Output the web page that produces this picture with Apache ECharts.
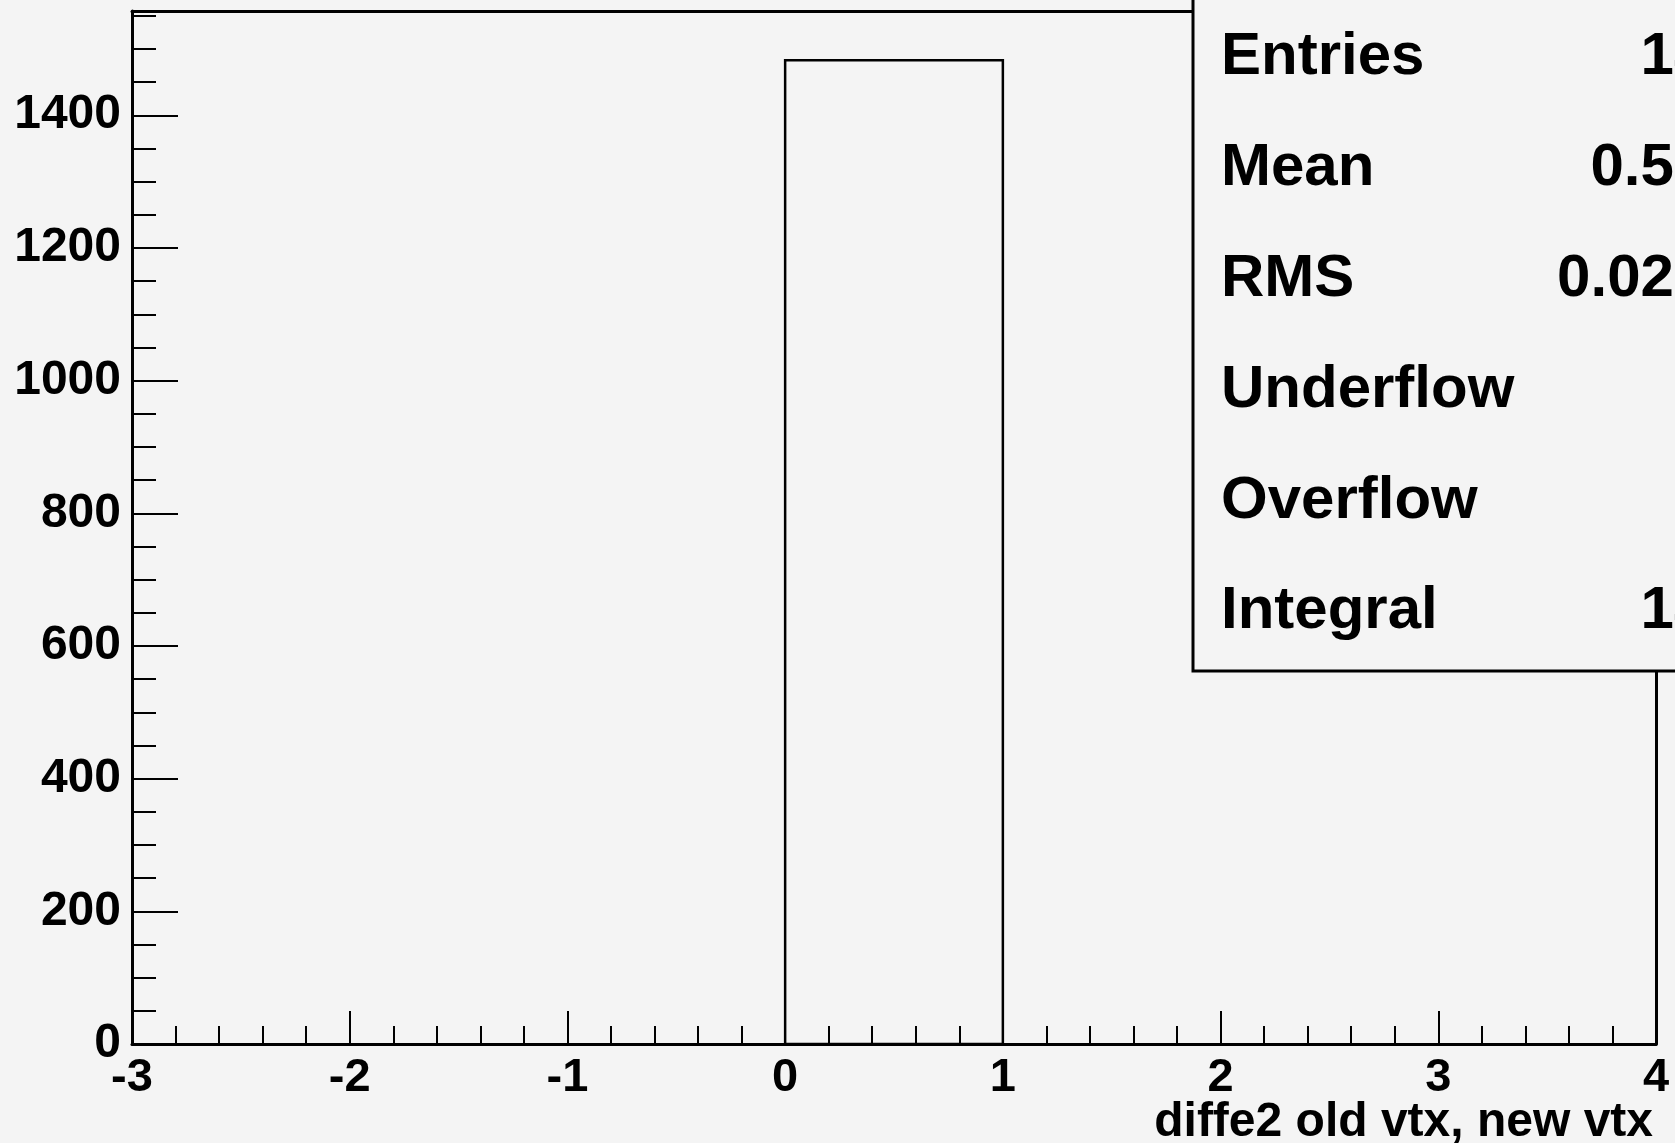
<!DOCTYPE html>
<html>
<head>
<meta charset="utf-8">
<script src="https://cdn.jsdelivr.net/npm/echarts@6/dist/echarts.min.js"></script>
<style>
html,body{margin:0;padding:0;background:#f4f4f4;}
#chart{width:1675px;height:1143px;}
</style>
</head>
<body>
<div id="chart"></div>
<script>
// ---- data ----
const binLow = [-3, -2, -1, 0, 1, 2, 3];
const binHigh = [-2, -1, 0, 1, 2, 3, 4];
const binCounts = [0, 0, 0, 1483, 0, 0, 0];
const xAxisTitle = 'diffe2 old vtx, new vtx';
const statLabels = ['Entries', 'Mean', 'RMS', 'Underflow', 'Overflow', 'Integral'];
const statValues = ['1483', '0.5003', '0.02887', '0', '0', '1483'];
const xMin = -3, xMax = 4;
const yMax = 1557.15;

const FONT = '"Liberation Sans", Arial, Helvetica, sans-serif';
const chart = echarts.init(document.getElementById('chart'), null, {renderer: 'canvas'});

const histData = binLow.map((lo, i) => [lo, binHigh[i], binCounts[i]]);

const statGraphics = [{
  type: 'rect', z: 100,
  shape: {x: 1193, y: -10, width: 540, height: 681},
  style: {fill: '#f4f4f4', stroke: '#000', lineWidth: 3}
}];
const rowY = [57, 168, 279, 390, 501, 611];
statLabels.forEach((lab, i) => {
  statGraphics.push({
    type: 'text', z: 101, x: 1221, y: rowY[i],
    style: {text: lab, font: 'bold 60px ' + FONT, fill: '#000', textAlign: 'left', textVerticalAlign: 'middle'}
  });
  statGraphics.push({
    type: 'text', z: 101, x: 1774, y: rowY[i],
    style: {text: statValues[i], font: 'bold 60px ' + FONT, fill: '#000', textAlign: 'right', textVerticalAlign: 'middle'}
  });
});
statGraphics.push({
  type: 'text', z: 50, x: 1653, y: 1123,
  style: {text: xAxisTitle, font: 'bold 48px ' + FONT, fill: '#000', textAlign: 'right', textVerticalAlign: 'middle'}
});

const option = {
  backgroundColor: '#f4f4f4',
  animation: false,
  grid: {left: 132, right: 19, top: 11, bottom: 99, containLabel: false},
  xAxis: [
    {
      type: 'value', min: xMin, max: xMax, interval: 1, position: 'bottom',
      axisLine: {show: true, onZero: false, lineStyle: {color: '#000', width: 3}},
      axisTick: {show: true, inside: true, length: 33, lineStyle: {color: '#000', width: 2}},
      minorTick: {show: true, splitNumber: 5, length: 18, lineStyle: {color: '#000', width: 2}},
      axisLabel: {show: true, margin: 11, color: '#000', fontFamily: FONT, fontWeight: 'bold', fontSize: 47},
      splitLine: {show: false}, minorSplitLine: {show: false}
    },
    {
      type: 'value', min: xMin, max: xMax, position: 'top',
      axisLine: {show: true, onZero: false, lineStyle: {color: '#000', width: 3}},
      axisTick: {show: false}, axisLabel: {show: false}, splitLine: {show: false}
    }
  ],
  yAxis: [
    {
      type: 'value', min: 0, max: yMax, interval: 200, position: 'left',
      axisLine: {show: true, onZero: false, lineStyle: {color: '#000', width: 3}},
      axisTick: {show: true, inside: true, length: 46, lineStyle: {color: '#000', width: 2}},
      axisLabel: {show: true, margin: 11, color: '#000', fontFamily: FONT, fontWeight: 'bold', fontSize: 48,
        formatter: v => (v % 200 === 0 ? String(v) : '')},
      splitLine: {show: false}
    },
    {
      type: 'value', min: 0, max: yMax, interval: 50, position: 'left',
      axisLine: {show: false, onZero: false},
      axisTick: {show: true, inside: true, length: 24, lineStyle: {color: '#000', width: 2}},
      axisLabel: {show: false}, splitLine: {show: false}
    },
    {
      type: 'value', min: 0, max: yMax, position: 'right',
      axisLine: {show: true, onZero: false, lineStyle: {color: '#000', width: 3}},
      axisTick: {show: false}, axisLabel: {show: false}, splitLine: {show: false}
    }
  ],
  series: [{
    type: 'custom',
    xAxisIndex: 0, yAxisIndex: 0,
    encode: {x: [0, 1], y: 2},
    data: histData,
    renderItem: function (params, api) {
      const cnt = api.value(2);
      if (!cnt) return null;
      const p0 = api.coord([api.value(0), cnt]);
      const p1 = api.coord([api.value(1), 0]);
      return {
        type: 'rect',
        shape: {x: p0[0], y: p0[1], width: p1[0] - p0[0], height: p1[1] - p0[1]},
        style: {fill: 'none', stroke: '#000', lineWidth: 2.5}
      };
    }
  }],
  graphic: statGraphics
};
chart.setOption(option);
</script>
</body>
</html>
